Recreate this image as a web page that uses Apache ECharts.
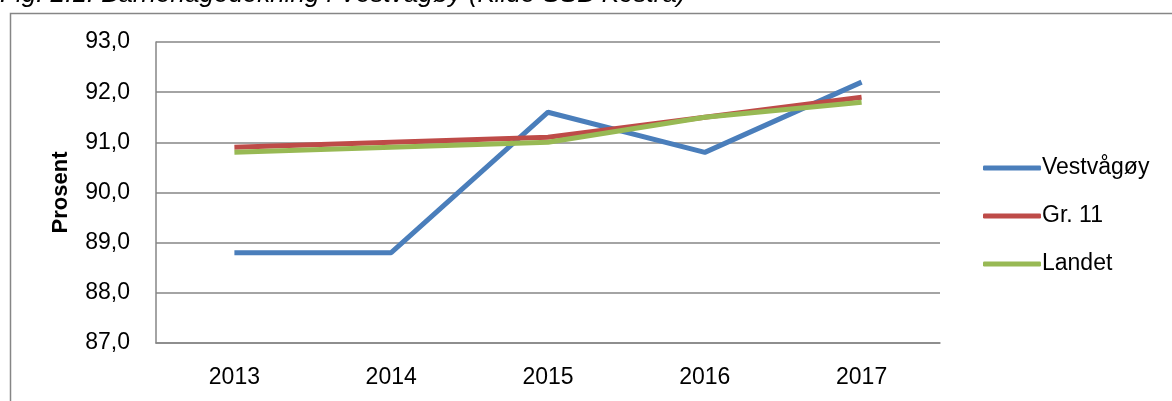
<!DOCTYPE html>
<html><head><meta charset="utf-8">
<script src="https://cdn.jsdelivr.net/npm/echarts@6/dist/echarts.min.js"></script>
<style>html,body{margin:0;padding:0;background:#fff}#c{width:1172px;height:401px}</style>
</head><body><div id="c"></div>
<script>
const years = ['2013','2014','2015','2016','2017'];
const vestvagoy = [88.8, 88.8, 91.6, 90.8, 92.2];
const gr11 = [90.9, 91.0, 91.1, 91.5, 91.9];
const landet = [90.8, 90.9, 91.0, 91.5, 91.8];
const seriesNames = ['Vestvågøy', 'Gr. 11', 'Landet'];
const colors = ['#4A7EBB', '#BE4B48', '#98B954'];
const font = 'Liberation Sans, Arial, sans-serif';

const chart = echarts.init(document.getElementById('c'));
const mk = (name, data, color, z) => ({
  name, type: 'line', data, symbol: 'none', z,
  lineStyle: { width: 5, color }, itemStyle: { color }
});
chart.setOption({
  animation: false,
  color: colors,
  graphic: [
    { type: 'rect', shape: { x: 10.5, y: 13.5, width: 1200, height: 500 },
      style: { fill: 'none', stroke: '#868686', lineWidth: 1.5 } },
    { type: 'text', left: 0, top: -18,
      style: { text: 'Fig. 2.1: Barnehagedekning i Vestvågøy (Kilde SSB Kostra)',
        font: 'italic 26px ' + font, fill: '#000' } }
  ],
  grid: { left: 156, top: 42, right: 232, bottom: 58 },
  legend: {
    orient: 'vertical', left: 978, top: 150, itemWidth: 58, itemHeight: 5,
    icon: 'roundRect', itemGap: 22,
    textStyle: { fontFamily: font, fontSize: 23, color: '#000', lineHeight: 26, padding: [0,0,0,-4] },
    data: seriesNames
  },
  xAxis: {
    type: 'category', data: years, boundaryGap: true,
    axisLine: { lineStyle: { color: '#868686', width: 1.5 } },
    axisTick: { show: false },
    axisLabel: { fontFamily: font, fontSize: 23, color: '#000', margin: 23 }
  },
  yAxis: {
    type: 'value', min: 87, max: 93, interval: 1,
    name: 'Prosent', nameLocation: 'middle', nameGap: 84, nameRotate: 90,
    nameTextStyle: { fontFamily: font, fontSize: 22, fontWeight: 'bold', color: '#000' },
    axisLine: { show: true, lineStyle: { color: '#868686', width: 1.5 } },
    axisTick: { show: false },
    splitLine: { lineStyle: { color: '#868686', width: 1.5 } },
    axisLabel: { fontFamily: font, fontSize: 23, color: '#000', margin: 26,
      formatter: v => v.toFixed(1).replace('.', ',') }
  },
  series: [
    mk(seriesNames[0], vestvagoy, colors[0], 2),
    mk(seriesNames[1], gr11, colors[1], 3),
    mk(seriesNames[2], landet, colors[2], 4)
  ]
});
</script></body></html>
